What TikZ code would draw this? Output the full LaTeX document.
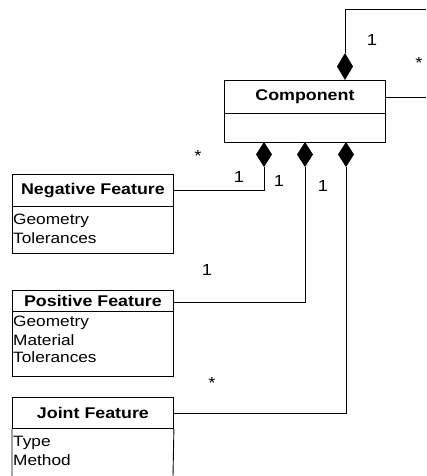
\documentclass[tikz,border=0pt]{standalone}
\usepackage{fontspec}
\setmainfont{Liberation Sans}[FakeStretch=1.15]
\begin{document}
\begin{tikzpicture}[x=1pt,y=-1pt,
  box/.style={draw,line width=0.9pt,inner sep=0pt},
  hdr/.style={font=\fontsize{15.5}{17}\selectfont\bfseries},
  attr/.style={font=\fontsize{15}{17}\selectfont,anchor=west,inner sep=0pt},
  lbl/.style={font=\fontsize{16}{17}\selectfont,inner sep=0pt},
  conn/.style={line width=0.8pt},
  dia/.style={fill=black}]
\useasboundingbox (0,0) rectangle (426,476);
% Component
\node[box,minimum width=161,minimum height=33,anchor=north west] (comph) at (224,80) {};
\node[box,minimum width=161,minimum height=29,anchor=north west] (compb) at (224,113) {};
\node[hdr] (compt) at (comph.center) {Component};
% Negative Feature
\node[box,minimum width=161,minimum height=32,anchor=north west] (negh) at (12,174) {};
\node[box,minimum width=161,minimum height=47,anchor=north west] (negb) at (12,206) {};
\node[hdr] (negt) at (negh.center) {Negative Feature};
\node[attr] (neg1) at (13,221) {Geometry};
\node[attr] (neg2) at (13,238) {Tolerances};
% Positive Feature
\node[box,minimum width=161,minimum height=21,anchor=north west] (posh) at (12,290) {};
\node[box,minimum width=161,minimum height=65,anchor=north west] (posb) at (12,311) {};
\node[hdr] (post) at (posh.center) {Positive Feature};
\node[attr] (pos1) at (13,323) {Geometry};
\node[attr] (pos2) at (13,340) {Material};
\node[attr] (pos3) at (13,357) {Tolerances};
% Joint Feature
\node[box,minimum width=161,minimum height=31,anchor=north west] (joih) at (12,397) {};
\draw[line width=0.9pt] (joih.south west) -- (12,476) (joih.south east) -- (173,476);
\node[hdr] (joit) at (joih.center) {Joint Feature};
\node[attr] (joi1) at (13,443) {Type};
\node[attr] (joi2) at (13,460) {Method};
% coordinates
\coordinate (dtop) at (345,80);
\coordinate (d1) at (264,142);
\coordinate (d2) at (305,142);
\coordinate (d3) at (346,142);
\coordinate (topR) at (426,9);
\coordinate (rightR) at (426,97);
% diamonds
\fill[dia] (dtop) -- ++(8,-13.5) -- ++(-8,-13.5) -- ++(-8,13.5) -- cycle;
\fill[dia] (d1) -- ++(8,12.5) -- ++(-8,12.5) -- ++(-8,-12.5) -- cycle;
\fill[dia] (d2) -- ++(8,12.5) -- ++(-8,12.5) -- ++(-8,-12.5) -- cycle;
\fill[dia] (d3) -- ++(8,12.5) -- ++(-8,12.5) -- ++(-8,-12.5) -- cycle;
% connectors
\draw[conn] (345,53) |- (topR);
\draw[conn] (comph.east |- rightR) -- (rightR);
\draw[conn] (264,167) |- (negh.east);
\draw[conn] (305,167) |- (173,302);
\draw[conn] (346,167) |- (joih.east);
% labels
\node[lbl] (l1) at (372,40) {1};
\node[lbl] (l2) at (419,63) {*};
\node[lbl] (l3) at (198,156) {*};
\node[lbl] (l4) at (239,177) {1};
\node[lbl] (l5) at (279,181) {1};
\node[lbl] (l6) at (323,186) {1};
\node[lbl] (l7) at (207,270) {1};
\node[lbl] (l8) at (212,383) {*};
\end{tikzpicture}
\end{document}
